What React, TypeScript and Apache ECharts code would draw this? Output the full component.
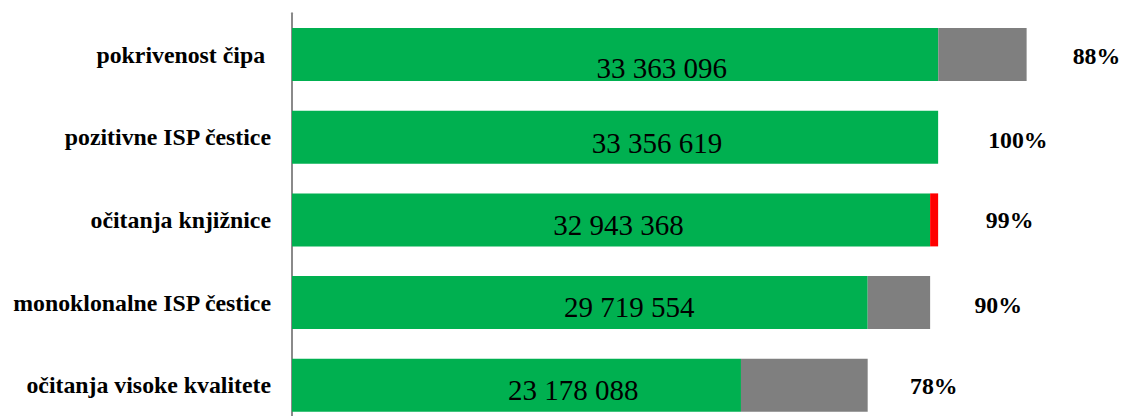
import React, { useEffect, useRef } from "react";
import * as echarts from "echarts";

const categories = [
  "pokrivenost čipa ",
  "pozitivne ISP čestice",
  "očitanja knjižnice",
  "monoklonalne ISP čestice",
  "očitanja visoke kvalitete",
];
const passedValues = [33363096, 33356619, 32943368, 29719554, 23178088];
const remainderValues = [4562000, 0, 413251, 3223814, 6541466];
const percentLabels = ["88%", "100%", "99%", "90%", "78%"];

const remainderColors = ["#7f7f7f", "#7f7f7f", "#ff0000", "#7f7f7f", "#7f7f7f"];
const valueLabelOffsets = [
  [46.5, 13],
  [42, 5.7],
  [7.5, 4.6],
  [49.3, 4.7],
  [56.8, 4.4],
];
const pctLabelOffsets = [
  [0, 1.5],
  [4, 2.4],
  [1.7, 0],
  [-1.7, 2.7],
  [-3.7, 1],
];

const SERIF = "'Liberation Serif', 'Times New Roman', serif";

function formatThousands(v: number): string {
  return String(v).replace(/\B(?=(\d{3})+(?!\d))/g, " ");
}

export default function App() {
  const ref = useRef<HTMLDivElement>(null);

  useEffect(() => {
    document.body.style.margin = "0";
    if (!ref.current) return;
    const chart = echarts.init(ref.current, null, { renderer: "svg" });
    chart.setOption({
      animation: false,
      backgroundColor: "#ffffff",
      textStyle: { fontFamily: SERIF },
      grid: { left: 292, top: 13.15, width: 800, height: 413.5 },
      xAxis: {
        type: "value",
        min: 0,
        max: 41300000,
        show: false,
      },
      yAxis: {
        type: "category",
        inverse: true,
        data: categories,
        axisLine: { show: true, lineStyle: { color: "#8a8a8a", width: 2 } },
        axisTick: { show: false },
        splitLine: { show: false },
        axisLabel: {
          margin: 21,
          color: "#000000",
          fontFamily: SERIF,
          fontWeight: "bold",
          fontSize: 23.8,
        },
      },
      series: [
        {
          type: "bar",
          stack: "total",
          barWidth: 53,
          itemStyle: { color: "#00b050" },
          data: passedValues.map((v, i) => ({
            value: v,
            label: {
              show: true,
              position: "inside",
              offset: valueLabelOffsets[i],
              formatter: () => formatThousands(v),
              color: "#000000",
              fontFamily: SERIF,
              fontSize: 29,
            },
          })),
        },
        {
          type: "bar",
          stack: "total",
          barWidth: 53,
          data: remainderValues.map((v, i) => ({
            value: v,
            itemStyle: { color: remainderColors[i] },
            label: {
              show: true,
              position: "right",
              distance: 46,
              offset: pctLabelOffsets[i],
              formatter: () => percentLabels[i],
              color: "#000000",
              fontFamily: SERIF,
              fontWeight: "bold",
              fontSize: 23.8,
            },
          })),
        },
      ],
    });
    return () => chart.dispose();
  }, []);

  return (
    <div
      ref={ref}
      style={{ position: "fixed", left: 0, top: 0, width: 1122, height: 440 }}
    />
  );
}
